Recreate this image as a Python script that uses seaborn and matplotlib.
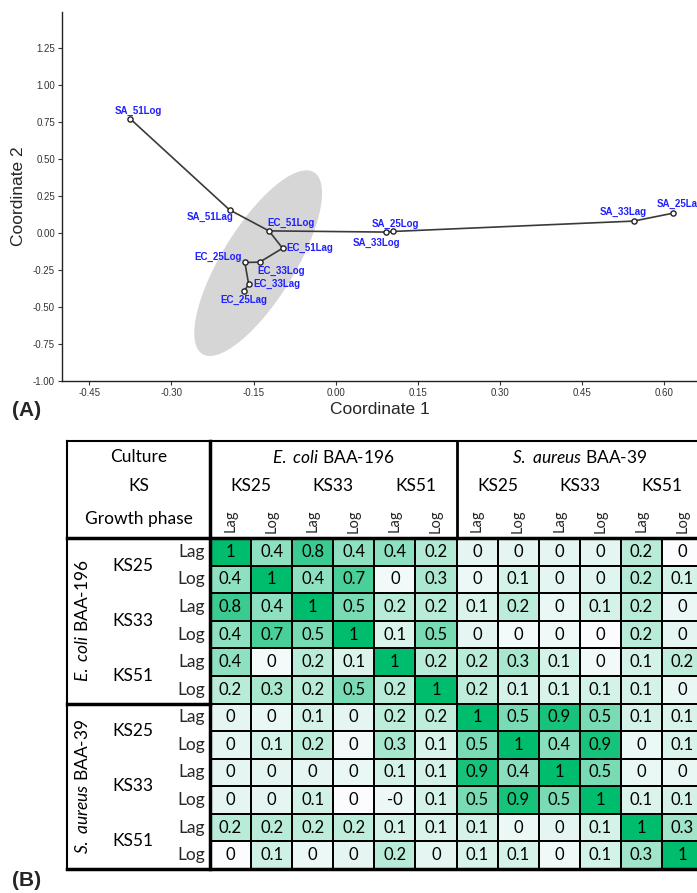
import numpy as np
import pandas as pd
import seaborn as sns
import matplotlib.pyplot as plt
from matplotlib.colors import LinearSegmentedColormap

# ---- (A) PCoA ordination ----
names = ["SA_51Log", "SA_51Lag", "EC_51Log", "EC_51Lag", "EC_33Log", "EC_25Log",
         "EC_33Lag", "EC_25Lag", "SA_33Log", "SA_25Log", "SA_33Lag", "SA_25Lag"]
coord1 = [-0.375, -0.194, -0.122, -0.097, -0.139, -0.166,
          -0.159, -0.167, 0.091, 0.104, 0.544, 0.617]
coord2 = [0.768, 0.155, 0.013, -0.104, -0.198, -0.200,
          -0.347, -0.392, 0.005, 0.009, 0.079, 0.133]
tree_edges = [("SA_51Log", "SA_51Lag"), ("SA_51Lag", "EC_51Log"), ("EC_51Log", "EC_51Lag"),
              ("EC_51Lag", "EC_33Log"), ("EC_33Log", "EC_25Log"), ("EC_25Log", "EC_33Lag"),
              ("EC_33Lag", "EC_25Lag"), ("EC_51Log", "SA_33Log"), ("SA_33Log", "SA_25Log"),
              ("SA_25Log", "SA_33Lag"), ("SA_33Lag", "SA_25Lag")]
x_ticks = [-0.45, -0.30, -0.15, 0.00, 0.15, 0.30, 0.45, 0.60]
y_ticks = [-1.00, -0.75, -0.50, -0.25, 0.00, 0.25, 0.50, 0.75, 1.00, 1.25]

# label offsets (points) relative to each marker
label_off = {"SA_51Log": (6, 5.5), "SA_51Lag": (-14, -4.8), "EC_51Log": (15.8, 6),
             "EC_51Lag": (19.7, 0.4), "EC_25Log": (-19, 3.9), "EC_33Log": (15.8, -6),
             "EC_33Lag": (20, 0), "EC_25Lag": (0, -6.5), "SA_25Log": (2, 5.5),
             "SA_33Log": (-6.6, -7.5), "SA_33Lag": (-7.7, 6.9), "SA_25Lag": (4.8, 6.5)}

# ---- (B) correlation table ----
cultures = ["E. coli BAA-196", "S. aureus BAA-39"]
ks_levels = ["KS25", "KS33", "KS51"]
phases = ["Lag", "Log"]
r_shown = [
    [1, 0.4, 0.8, 0.4, 0.4, 0.2, 0, 0, 0, 0, 0.2, 0],
    [0.4, 1, 0.4, 0.7, 0, 0.3, 0, 0.1, 0, 0, 0.2, 0.1],
    [0.8, 0.4, 1, 0.5, 0.2, 0.2, 0.1, 0.2, 0, 0.1, 0.2, 0],
    [0.4, 0.7, 0.5, 1, 0.1, 0.5, 0, 0, 0, 0, 0.2, 0],
    [0.4, 0, 0.2, 0.1, 1, 0.2, 0.2, 0.3, 0.1, 0, 0.1, 0.2],
    [0.2, 0.3, 0.2, 0.5, 0.2, 1, 0.2, 0.1, 0.1, 0.1, 0.1, 0],
    [0, 0, 0.1, 0, 0.2, 0.2, 1, 0.5, 0.9, 0.5, 0.1, 0.1],
    [0, 0.1, 0.2, 0, 0.3, 0.1, 0.5, 1, 0.4, 0.9, 0, 0.1],
    [0, 0, 0, 0, 0.1, 0.1, 0.9, 0.4, 1, 0.5, 0, 0],
    [0, 0, 0.1, 0, -0.0, 0.1, 0.5, 0.9, 0.5, 1, 0.1, 0.1],
    [0.2, 0.2, 0.2, 0.2, 0.1, 0.1, 0.1, 0, 0, 0.1, 1, 0.3],
    [0, 0.1, 0, 0, 0.2, 0, 0.1, 0.1, 0, 0.1, 0.3, 1],
]
# unrounded values behind the cell colours (estimated)
r_shade = [
    [1.00, 0.38, 0.75, 0.38, 0.38, 0.22, 0.00, 0.00, 0.00, 0.00, 0.20, -0.10],
    [0.38, 1.00, 0.38, 0.68, -0.05, 0.25, -0.03, 0.08, 0.00, 0.02, 0.22, 0.08],
    [0.75, 0.38, 1.00, 0.48, 0.20, 0.20, 0.05, 0.18, -0.02, 0.07, 0.20, -0.03],
    [0.38, 0.68, 0.48, 1.00, 0.05, 0.48, 0.00, -0.06, -0.04, -0.10, 0.20, 0.00],
    [0.38, -0.06, 0.20, 0.05, 1.00, 0.20, 0.20, 0.27, 0.08, -0.05, 0.08, 0.17],
    [0.20, 0.27, 0.20, 0.48, 0.20, 1.00, 0.17, 0.07, 0.06, 0.08, 0.07, -0.02],
    [0.00, -0.02, 0.07, 0.00, 0.18, 0.17, 1.00, 0.48, 0.90, 0.48, 0.07, 0.06],
    [0.00, 0.08, 0.18, -0.05, 0.27, 0.06, 0.48, 1.00, 0.40, 0.90, -0.03, 0.06],
    [0.00, 0.00, 0.00, -0.02, 0.08, 0.07, 0.90, 0.40, 1.00, 0.48, -0.02, -0.02],
    [0.00, 0.00, 0.09, -0.10, -0.03, 0.07, 0.48, 0.90, 0.48, 1.00, 0.05, 0.07],
    [0.20, 0.20, 0.18, 0.17, 0.07, 0.05, 0.07, -0.03, 0.00, 0.07, 1.00, 0.30],
    [-0.10, 0.10, -0.03, 0.00, 0.20, 0.00, 0.06, 0.07, -0.04, 0.08, 0.30, 1.00],
]


def cell_text(v):
    s = f"{v:.1f}"
    return s[:-2] if s.endswith(".0") else s


sns.set_theme(style="white")
plt.rcParams["font.family"] = ["Liberation Sans", "DejaVu Sans"]
plt.rcParams["mathtext.fontset"] = "custom"
plt.rcParams["mathtext.rm"] = "Lato"
plt.rcParams["mathtext.it"] = "Lato:italic"

fig = plt.figure(figsize=(6.97, 8.93), dpi=100)

# ---------------- panel A ----------------
ax = fig.add_axes([62 / 697, 1 - 381 / 893, 635 / 697, 369 / 893])
pts = pd.DataFrame({"name": names, "coord1": coord1, "coord2": coord2})

# 95% ellipse of the E. coli group
ec = pts[pts["name"].str.startswith("EC")][["coord1", "coord2"]].to_numpy()
n = len(ec)
cov = np.cov(ec, rowvar=False)
vals, vecs = np.linalg.eigh(cov)
k = np.sqrt(2 * (n - 1) / (n - 2) * 6.944)  # F(2, n-2, 0.95)
t = np.linspace(0, 2 * np.pi, 200)
circ = np.stack([np.cos(t), np.sin(t)])
ell = (vecs @ np.diag(np.sqrt(vals) * k) @ circ).T + ec.mean(axis=0)
ax.fill(ell[:, 0], ell[:, 1], color="#d6d6d6", lw=0, zorder=1)

lookup = pts.set_index("name")
for a, b in tree_edges:
    ax.plot([lookup.loc[a, "coord1"], lookup.loc[b, "coord1"]],
            [lookup.loc[a, "coord2"], lookup.loc[b, "coord2"]],
            color="#3a3a3a", lw=1.2, zorder=2)

sns.scatterplot(data=pts, x="coord1", y="coord2", ax=ax, marker="o", s=14,
                facecolor="white", edgecolor="#222222", linewidth=1.0, zorder=4)

for nm, x, y in zip(names, coord1, coord2):
    ax.annotate(nm, (x, y), xytext=label_off[nm], textcoords="offset points",
                ha="center", va="center", color="#2020ff", fontsize=7,
                fontweight="bold", annotation_clip=False, zorder=5)

ax.set_xlim(-0.5, 0.66)
ax.set_ylim(-1.0, 1.49)
ax.set_xticks(x_ticks)
ax.set_xticklabels([f"{v:.2f}" for v in x_ticks])
ax.set_yticks(y_ticks)
ax.set_yticklabels([f"{v:.2f}" for v in y_ticks])
ax.tick_params(axis="both", which="major", direction="out", length=3, width=0.8,
               labelsize=7, colors="#333333", bottom=True, left=True, pad=2)
for s in ["top", "right"]:
    ax.spines[s].set_visible(False)
for s in ["left", "bottom"]:
    ax.spines[s].set_color("#222222")
    ax.spines[s].set_linewidth(1.0)
ax.set_xlabel("Coordinate 1", fontsize=12.5, labelpad=3)
ax.set_ylabel("Coordinate 2", fontsize=12.5, labelpad=5)
ax.set_facecolor("white")

fig.text(12 / 697, 1 - 410 / 893, "(A)", fontsize=15, fontweight="bold", va="center")
fig.text(12 / 697, 1 - 880 / 893, "(B)", fontsize=15, fontweight="bold", va="center")

# ---------------- panel B ----------------
hx = fig.add_axes([210 / 697, 1 - 869 / 893, 493 / 697, 331 / 893])
shade = pd.DataFrame(r_shade)
labels = np.array([[cell_text(v) for v in row] for row in r_shown])
cmap = LinearSegmentedColormap.from_list("white_green", ["#fcfcff", "#00bd6e"])
sns.heatmap(shade, ax=hx, cmap=cmap, vmin=-0.1, vmax=1.0, annot=labels, fmt="",
            cbar=False, linewidths=1.2, linecolor="black",
            annot_kws={"fontsize": 12, "color": "black", "family": "Lato"},
            xticklabels=False, yticklabels=False)

tf = dict(family="Lato", fontsize=12.5, color="black", ha="center", va="center",
          clip_on=False)
x_left, y_top = -3.48, -3.51
hx.text((x_left + 0) / 2, -2.93, "Culture", **tf)
hx.text((x_left + 0) / 2, -1.88, "KS", **tf)
hx.text((x_left + 0) / 2, -0.70, "Growth phase", **tf)

for c, culture in enumerate(cultures):
    genus, rest = culture.split(" ", 1)
    species, strain = rest.split(" ", 1)
    title = r"$\mathit{" + genus + r"\ " + species + "}$ " + strain
    hx.text(6 * c + 3, -2.93, title, **tf)
    hx.text(-3.1, 6 * c + 3, title, rotation=90, **tf)
    for j, ks in enumerate(ks_levels):
        hx.text(6 * c + 2 * j + 1, -1.88, ks, **tf)
        hx.text(-1.87, 6 * c + 2 * j + 1, ks, **tf)
        for p, ph in enumerate(phases):
            idx = 6 * c + 2 * j + p
            hx.text(idx + 0.5, -0.62, ph, rotation=90, family="Lato", fontsize=10.5,
                    ha="center", va="center", clip_on=False)
            hx.text(-0.12, idx + 0.5, ph, family="Lato", fontsize=12.5,
                    ha="right", va="center", clip_on=False)

lines = [
    ((x_left, 12.3), (y_top, y_top), 1.5),
    ((x_left, 12.3), (0, 0), 2.5),
    ((x_left, 12.3), (12, 12), 2.5),
    ((x_left, x_left), (y_top, 12), 1.5),
    ((0, 0), (y_top, 12), 2.5),
    ((6, 6), (y_top, 0), 2.0),
    ((x_left, 0), (6, 6), 2.5),
]
for xs, ys, lw in lines:
    hx.plot(xs, ys, color="black", lw=lw, clip_on=False, solid_capstyle="projecting")

fig.savefig("out.png", dpi=100)
